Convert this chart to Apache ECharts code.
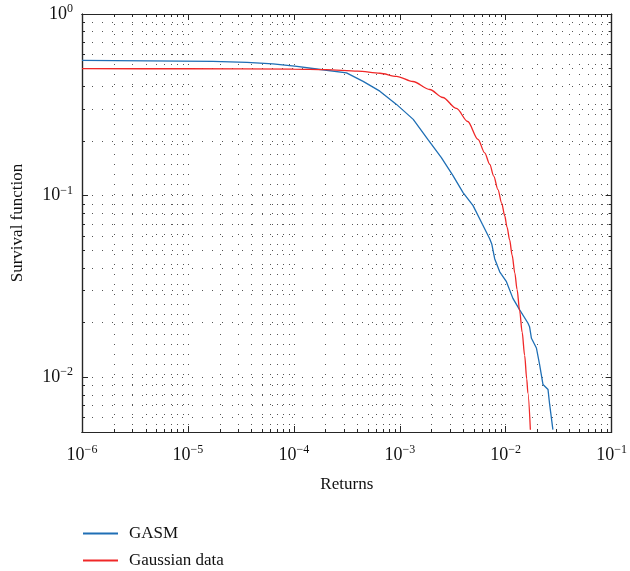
<!DOCTYPE html>
<html>
<head>
<meta charset="utf-8">
<script src="https://cdn.jsdelivr.net/npm/echarts@6/dist/echarts.min.js"></script>
<style>
html,body{margin:0;padding:0;background:#fff;}
#chart{width:630px;height:571px;}
</style>
</head>
<body>
<div id="chart"></div>
<script>
// ---- data ----
const xTickExponents = [-6, -5, -4, -3, -2, -1];
const yTickExponents = [-2, -1, 0];
const xRange = [1e-6, 1e-1];
const yRange = [0.005, 1];

const gasmReturns = [1e-6, 1.72e-5, 3.61e-5, 6.34e-5, 1.07e-4, 1.64e-4, 3.14e-4, 4.51e-4, 6.48e-4, 9.31e-4,
  1.34e-3, 1.84e-3, 2.47e-3, 3.18e-3, 3.96e-3, 4.92e-3, 6.11e-3, 7.06e-3, 7.4e-3, 7.87e-3, 8.78e-3,
  1.016e-2, 1.17e-2, 1.355e-2, 1.62e-2, 1.68e-2, 1.75e-2, 1.95e-2, 2.09e-2, 2.25e-2, 2.51e-2, 2.60e-2, 2.79e-2];
const gasmSurvival = [0.555, 0.548, 0.541, 0.532, 0.515, 0.498, 0.474, 0.426, 0.376, 0.318,
  0.263, 0.204, 0.162, 0.129, 0.104, 0.0881, 0.0685, 0.0579, 0.0540, 0.0450, 0.0381,
  0.0336, 0.0272, 0.0235, 0.0199, 0.0190, 0.0164, 0.0145, 0.01174, 0.00912, 0.00856, 0.00709, 0.00515];

const gaussReturns = [1e-6, 1e-5, 1e-4, 2e-4, 4e-4, 6.5e-4, 9.31e-4, 1.33e-3, 1.92e-3, 2.55e-3, 3.43e-3,
  4.38e-3, 5.48e-3, 6.34e-3, 7.06e-3, 7.71e-3, 8.45e-3, 9.17e-3, 9.79e-3, 1.03e-2, 1.09e-2, 1.15e-2,
  1.22e-2, 1.28e-2, 1.355e-2, 1.43e-2, 1.51e-2, 1.58e-2, 1.62e-2, 1.71e-2];
const gaussSurvival = [0.500, 0.4995, 0.497, 0.494, 0.485, 0.472, 0.454, 0.425, 0.384, 0.347, 0.302,
  0.256, 0.204, 0.172, 0.149, 0.128, 0.108, 0.0910, 0.0775, 0.0670, 0.0570, 0.0470,
  0.0375, 0.0305, 0.0232, 0.0177, 0.0132, 0.0098, 0.0082, 0.00515];

const seriesNames = ['GASM', 'Gaussian data'];
const seriesColors = ['#1f6fb5', '#f02828'];

// ---- helpers (log10 transform for the axes) ----
const lg = v => Math.log10(v);
function minorList(lo, hi) {
  const out = [];
  for (let d = Math.floor(lg(lo)); d <= Math.ceil(lg(hi)); d++) {
    for (let k = 1; k <= 9; k++) {
      const v = k * Math.pow(10, d);
      if (v >= lo * 0.9999 && v <= hi * 1.0001) out.push(lg(v));
    }
  }
  return out;
}
const xMinor = minorList(xRange[0], xRange[1]);
const yMinor = minorList(yRange[0], yRange[1]);
const xMajor = xTickExponents.slice();
const yMajor = yTickExponents.slice();

const FONT = '"Liberation Serif", "DejaVu Serif", serif';
const AX = '#262626';
const fmt = v => '{b|10}{s|' + String(Math.round(v)).replace('-', '\u2212') + '}';
const rich = {
  b: {fontSize: 18, fontFamily: FONT, color: '#111', lineHeight: 22},
  s: {fontSize: 12, fontFamily: FONT, color: '#111', lineHeight: 12, verticalAlign: 'top'}
};
const gridLine = {show: true, lineStyle: {color: '#555', width: 1, type: [1, 9]}};

function axis(dim, pos, tickVals, len, extra) {
  const r = dim === 'x' ? [lg(xRange[0]), lg(xRange[1])] : [lg(yRange[0]), lg(yRange[1])];
  return Object.assign({
    type: 'value', position: pos, min: r[0], max: r[1],
    axisLine: {show: true, onZero: false, lineStyle: {color: AX, width: 1.2}},
    axisTick: {show: true, inside: true, length: len, customValues: tickVals, lineStyle: {color: AX, width: 1}},
    axisLabel: {show: false},
    splitLine: {show: false}
  }, extra || {});
}

function legendFor(i, top) {
  return {
    orient: 'vertical', left: 78, top: top, itemWidth: 35, itemHeight: 2,
    icon: 'rect',
    textStyle: {fontFamily: FONT, fontSize: 17, color: '#111', padding: [0, 0, 0, 6]},
    data: [seriesNames[i]]
  };
}

const chart = echarts.init(document.getElementById('chart'), null, {renderer: 'canvas'});
chart.setOption({
  animation: false,
  backgroundColor: '#fff',
  grid: {left: 82, right: 18, top: 14, bottom: 139, containLabel: false},
  xAxis: [
    axis('x', 'bottom', xMinor, 3, {
      splitLine: gridLine,
      axisLabel: {show: true, customValues: xMajor, formatter: fmt, rich: rich, margin: 12},
      name: 'Returns', nameLocation: 'middle', nameGap: 44,
      nameTextStyle: {fontFamily: FONT, fontSize: 17, color: '#111'}
    }),
    axis('x', 'bottom', xMajor, 6),
    axis('x', 'top', xMinor, 3),
    axis('x', 'top', xMajor, 6)
  ],
  yAxis: [
    axis('y', 'left', yMinor, 3, {
      splitLine: gridLine,
      axisLabel: {show: true, customValues: yMajor, formatter: fmt, rich: rich, margin: 9},
      name: 'Survival function', nameLocation: 'middle', nameGap: 56,
      nameTextStyle: {fontFamily: FONT, fontSize: 17, color: '#111'}
    }),
    axis('y', 'left', yMajor, 6),
    axis('y', 'right', yMinor, 3),
    axis('y', 'right', yMajor, 6)
  ],
  legend: [legendFor(0, 520), legendFor(1, 547)],
  series: [
    {
      name: seriesNames[0], type: 'line', xAxisIndex: 0, yAxisIndex: 0, showSymbol: false, symbol: 'none',
      lineStyle: {color: seriesColors[0], width: 1.3}, itemStyle: {color: seriesColors[0]},
      data: gasmReturns.map((x, i) => [lg(x), lg(gasmSurvival[i])])
    },
    {
      name: seriesNames[1], type: 'line', xAxisIndex: 0, yAxisIndex: 0, showSymbol: false, symbol: 'none',
      smooth: 0.3, smoothMonotone: 'x',
      lineStyle: {color: seriesColors[1], width: 1.3}, itemStyle: {color: seriesColors[1]},
      data: gaussReturns.map((x, i) => [lg(x), lg(gaussSurvival[i])])
    }
  ]
});
</script>
</body>
</html>
